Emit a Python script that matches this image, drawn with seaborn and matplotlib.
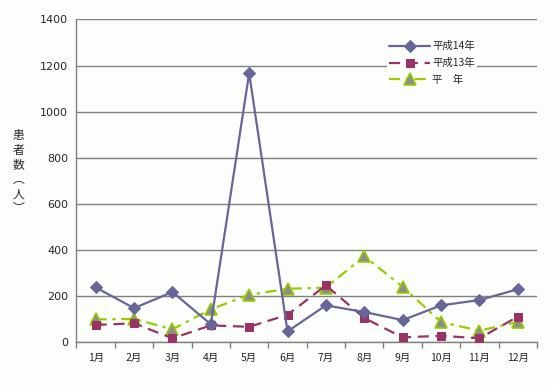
import matplotlib
matplotlib.use("Agg")
import matplotlib.pyplot as plt
import seaborn as sns
import numpy as np
import pandas as pd
from matplotlib.ticker import FixedLocator

months = ["1月", "2月", "3月", "4月", "5月", "6月", "7月", "8月", "9月", "10月", "11月", "12月"]
h14 = [237, 147, 217, 77, 1167, 46, 159, 130, 95, 159, 182, 229]
h13 = [74, 81, 16, 72, 66, 118, 246, 104, 20, 27, 16, 110]
heinen = [98, 100, 55, 142, 205, 231, 236, 372, 240, 87, 49, 87]
series_names = ["平成14年", "平成13年", "平\u3000年"]
yticks = [0, 200, 400, 600, 800, 1000, 1200, 1400]

sns.set_theme(style="white")
plt.rcParams['font.family'] = ['Noto Sans CJK JP', 'DejaVu Sans']

fig = plt.figure(figsize=(5.53, 3.86), dpi=100)
fig.patch.set_facecolor("#FCFEFC")
ax = fig.add_axes([0.1383, 0.114, 0.971 - 0.1383, 0.9495 - 0.114])
ax.set_facecolor("#FCFEFC")

x = np.arange(len(months))
df = pd.DataFrame({"x": x, "h14": h14, "h13": h13, "heinen": heinen})

sns.lineplot(data=df, x="x", y="h14", ax=ax, color="#666699", lw=1.6,
             marker="D", markersize=6.5, markerfacecolor="#666699",
             markeredgecolor="#666699", label=series_names[0], zorder=5)
sns.lineplot(data=df, x="x", y="h13", ax=ax, color="#993366", lw=1.6,
             dashes=(5, 3), marker="s", markersize=5.5, markerfacecolor="#993366",
             markeredgecolor="#993366", label=series_names[1], zorder=4)
sns.lineplot(data=df, x="x", y="heinen", ax=ax, color="#99CC00", lw=1.6,
             dashes=(5, 2.5, 1.5, 2.5), marker="^", markersize=8.5, markerfacecolor="#8C8C8C",
             markeredgecolor="#99CC00", markeredgewidth=1.2, label=series_names[2], zorder=3)

ax.set_xlim(-0.5, len(months) - 0.5)
ax.set_ylim(0, 1400)
ax.set_yticks(yticks)
ax.set_yticklabels([str(v) for v in yticks], fontsize=8, family=['DejaVu Sans'])
ax.set_xticks(x)
ax.set_xticklabels(months, fontsize=7.5)
ax.tick_params(axis="x", which="major", length=0, pad=8)
ax.xaxis.set_minor_locator(FixedLocator(np.arange(-0.5, len(months) + 0.5, 1)))
ax.tick_params(axis="x", which="minor", length=4, color="#808080", width=1, direction="out", bottom=True)
ax.tick_params(axis="y", length=0, pad=6)
ax.grid(axis="y", color="#808080", lw=1)
ax.set_axisbelow(True)
for s in ["top", "right"]:
    ax.spines[s].set_visible(False)
for s in ["left", "bottom"]:
    ax.spines[s].set_color("#808080")
    ax.spines[s].set_linewidth(1)
ax.set_xlabel("")
ax.set_ylabel("")

fig.text(0.033, 0.665, "患\n者\n数\n︵\n人\n︶", fontsize=8.5, ha="center", va="top",
         linespacing=1.15)

leg = ax.legend(loc="upper left", bbox_to_anchor=(0.675, 0.94), frameon=True,
                fontsize=7.5, handlelength=3.9, handletextpad=0.2, labelspacing=0.65,
                borderpad=0.2, borderaxespad=0)
leg.get_frame().set_facecolor("#FCFEFC")
leg.get_frame().set_edgecolor("none")
leg.get_frame().set_alpha(1)

fig.savefig("out.png", dpi=100, facecolor=fig.get_facecolor())
